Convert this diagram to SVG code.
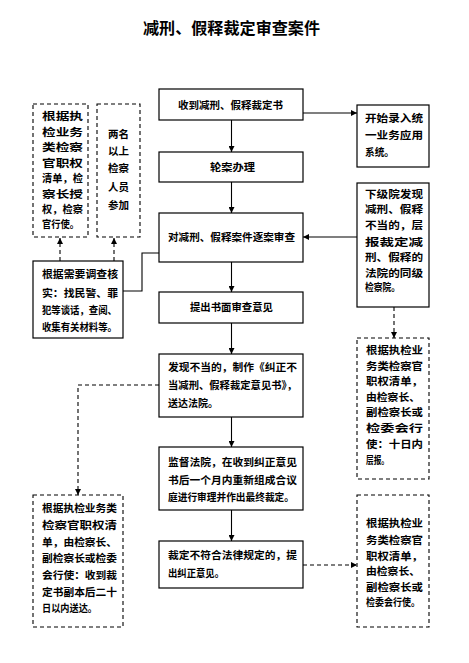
<svg xmlns="http://www.w3.org/2000/svg" width="469" height="663" viewBox="0 0 469 663">
<style>
.t{font-family:"Noto Sans CJK SC","Noto Sans CJK JP",sans-serif;font-weight:bold;font-size:10.5px;fill:#000}
.title{font-family:"Noto Sans CJK SC","Noto Sans CJK JP",sans-serif;font-weight:bold;font-size:16px;fill:#000}
.box{fill:#fff;stroke:#000;stroke-width:1.2}
.dbox{fill:#fff;stroke:#000;stroke-width:1.1;stroke-dasharray:4 3}
.ln{fill:none;stroke:#000;stroke-width:1.1}
.dl{fill:none;stroke:#000;stroke-width:1.1;stroke-dasharray:4 3}
</style>
<defs>
<marker id="ah" viewBox="0 0 10 10" refX="10" refY="5" markerWidth="6" markerHeight="6" markerUnits="userSpaceOnUse" orient="auto">
<path d="M0,0 L10,5 L0,10 Z" fill="#000"/>
</marker>
</defs>
<rect width="469" height="663" fill="#fff"/>
<text class="title" x="231.5" y="34" text-anchor="middle" textLength="177" lengthAdjust="spacingAndGlyphs">减刑、假释裁定审查案件</text>

<g id="connectors">
<line class="ln" x1="231.5" y1="120" x2="231.5" y2="152" marker-end="url(#ah)"/>
<line class="ln" x1="231.5" y1="182" x2="231.5" y2="213" marker-end="url(#ah)"/>
<line class="ln" x1="231.5" y1="262" x2="231.5" y2="292" marker-end="url(#ah)"/>
<line class="ln" x1="231.5" y1="323" x2="231.5" y2="354" marker-end="url(#ah)"/>
<line class="ln" x1="231.5" y1="417" x2="231.5" y2="447" marker-end="url(#ah)"/>
<line class="ln" x1="231.5" y1="510" x2="231.5" y2="541" marker-end="url(#ah)"/>
<line class="ln" x1="303" y1="113" x2="357" y2="113" marker-end="url(#ah)"/>
<line class="ln" x1="357" y1="237" x2="303" y2="237" marker-end="url(#ah)"/>
<line class="dl" x1="394" y1="307" x2="394" y2="338" marker-end="url(#ah)"/>
<line class="dl" x1="303" y1="565" x2="357" y2="565" marker-end="url(#ah)"/>
<polyline class="dl" points="159,385 78,385 78,495" marker-end="url(#ah)"/>
<line class="dl" x1="60" y1="261" x2="60" y2="238" marker-end="url(#ah)"/>
<line class="dl" x1="114" y1="261" x2="114" y2="238" marker-end="url(#ah)"/>
<polyline class="ln" points="123,291 142,291 142,253 159,253"/>
</g>

<g id="n1">
<rect class="box" x="159" y="89" width="144" height="31"/>
<text class="t" x="178" y="109" textLength="105" lengthAdjust="spacingAndGlyphs">收到减刑、假释裁定书</text>
</g>
<g id="n2">
<rect class="box" x="159" y="152" width="144" height="30"/>
<text class="t" x="210" y="171" textLength="45" lengthAdjust="spacingAndGlyphs">轮案办理</text>
</g>
<g id="n3">
<rect class="box" x="159" y="213" width="144" height="49"/>
<text class="t" x="168" y="241" textLength="127" lengthAdjust="spacingAndGlyphs">对减刑、假释案件逐案审查</text>
</g>
<g id="n4">
<rect class="box" x="159" y="292" width="144" height="31"/>
<text class="t" x="190" y="311" textLength="83" lengthAdjust="spacingAndGlyphs">提出书面审查意见</text>
</g>
<g id="n5">
<rect class="box" x="159" y="354" width="144" height="63"/>
<text class="t" x="168" y="371" textLength="129" lengthAdjust="spacingAndGlyphs">发现不当的，制作《纠正不</text>
<text class="t" x="168" y="389" textLength="129" lengthAdjust="spacingAndGlyphs">当减刑、假释裁定意见书》，</text>
<text class="t" x="168" y="407" textLength="50" lengthAdjust="spacingAndGlyphs">送达法院。</text>
</g>
<g id="n6">
<rect class="box" x="159" y="447" width="144" height="63"/>
<text class="t" x="168" y="466" textLength="129" lengthAdjust="spacingAndGlyphs">监督法院，在收到纠正意见</text>
<text class="t" x="168" y="484" textLength="129" lengthAdjust="spacingAndGlyphs">书后一个月内重新组成合议</text>
<text class="t" x="168" y="501" textLength="126" lengthAdjust="spacingAndGlyphs">庭进行审理并作出最终裁定。</text>
</g>
<g id="n7">
<rect class="box" x="159" y="541" width="144" height="47"/>
<text class="t" x="168" y="559" textLength="129" lengthAdjust="spacingAndGlyphs">裁定不符合法律规定的，提</text>
<text class="t" x="168" y="577" textLength="56" lengthAdjust="spacingAndGlyphs">出纠正意见。</text>
</g>
<g id="nA">
<rect class="box" x="357" y="105" width="72" height="62"/>
<text class="t" x="365" y="122" textLength="58" lengthAdjust="spacingAndGlyphs">开始录入统</text>
<text class="t" x="365" y="139" textLength="58" lengthAdjust="spacingAndGlyphs">一业务应用</text>
<text class="t" x="365" y="156" textLength="29" lengthAdjust="spacingAndGlyphs">系统。</text>
</g>
<g id="nB">
<rect class="box" x="357" y="183" width="72" height="124"/>
<text class="t" x="365" y="198" textLength="58" lengthAdjust="spacingAndGlyphs">下级院发现</text>
<text class="t" x="365" y="213" textLength="58" lengthAdjust="spacingAndGlyphs">减刑、假释</text>
<text class="t" x="365" y="229" textLength="58" lengthAdjust="spacingAndGlyphs">不当的，层</text>
<text class="t" x="365" y="246" textLength="58" lengthAdjust="spacingAndGlyphs">报裁定减</text>
<text class="t" x="365" y="261" textLength="58" lengthAdjust="spacingAndGlyphs">刑、假释的</text>
<text class="t" x="365" y="277" textLength="58" lengthAdjust="spacingAndGlyphs">法院的同级</text>
<text class="t" x="365" y="291" textLength="35" lengthAdjust="spacingAndGlyphs">检察院。</text>
</g>
<g id="nC">
<rect class="dbox" x="357" y="338" width="72" height="141"/>
<text class="t" x="366" y="354" textLength="57" lengthAdjust="spacingAndGlyphs">根据执检业</text>
<text class="t" x="366" y="370" textLength="57" lengthAdjust="spacingAndGlyphs">务类检察官</text>
<text class="t" x="366" y="385" textLength="57" lengthAdjust="spacingAndGlyphs">职权清单，</text>
<text class="t" x="366" y="401" textLength="54" lengthAdjust="spacingAndGlyphs">由检察长、</text>
<text class="t" x="366" y="416" textLength="57" lengthAdjust="spacingAndGlyphs">副检察长或</text>
<text class="t" x="366" y="432" textLength="57" lengthAdjust="spacingAndGlyphs">检委会行</text>
<text class="t" x="366" y="448" textLength="57" lengthAdjust="spacingAndGlyphs">使：十日内</text>
<text class="t" x="366" y="464" textLength="23" lengthAdjust="spacingAndGlyphs">层报。</text>
</g>
<g id="nL1">
<rect class="dbox" x="33" y="104" width="55" height="133"/>
<text class="t" x="42" y="120" textLength="41" lengthAdjust="spacingAndGlyphs">根据执</text>
<text class="t" x="42" y="136" textLength="41" lengthAdjust="spacingAndGlyphs">检业务</text>
<text class="t" x="42" y="151" textLength="41" lengthAdjust="spacingAndGlyphs">类检察</text>
<text class="t" x="42" y="167" textLength="41" lengthAdjust="spacingAndGlyphs">官职权</text>
<text class="t" x="42" y="182" textLength="41" lengthAdjust="spacingAndGlyphs">清单，检</text>
<text class="t" x="42" y="198" textLength="41" lengthAdjust="spacingAndGlyphs">察长授</text>
<text class="t" x="42" y="213" textLength="41" lengthAdjust="spacingAndGlyphs">权，检察</text>
<text class="t" x="42" y="228" textLength="37" lengthAdjust="spacingAndGlyphs">官行使。</text>
</g>
<g id="nL2">
<rect class="dbox" x="97" y="104" width="43" height="133"/>
<text class="t" x="108" y="138" textLength="21" lengthAdjust="spacingAndGlyphs">两名</text>
<text class="t" x="108" y="155" textLength="21" lengthAdjust="spacingAndGlyphs">以上</text>
<text class="t" x="108" y="172" textLength="21" lengthAdjust="spacingAndGlyphs">检察</text>
<text class="t" x="108" y="191" textLength="21" lengthAdjust="spacingAndGlyphs">人员</text>
<text class="t" x="108" y="209" textLength="21" lengthAdjust="spacingAndGlyphs">参加</text>
</g>
<g id="nD">
<rect class="box" x="33" y="261" width="90" height="77"/>
<text class="t" x="42" y="278" textLength="76" lengthAdjust="spacingAndGlyphs">根据需要调查核</text>
<text class="t" x="42" y="297" textLength="76" lengthAdjust="spacingAndGlyphs">实：找民警、罪</text>
<text class="t" x="42" y="314" textLength="75" lengthAdjust="spacingAndGlyphs">犯等谈话，查阅、</text>
<text class="t" x="42" y="331" textLength="75" lengthAdjust="spacingAndGlyphs">收集有关材料等。</text>
</g>
<g id="nE">
<rect class="dbox" x="33" y="495" width="90" height="132"/>
<text class="t" x="42" y="512" textLength="75" lengthAdjust="spacingAndGlyphs">根据执检业务类</text>
<text class="t" x="42" y="529" textLength="75" lengthAdjust="spacingAndGlyphs">检察官职权清</text>
<text class="t" x="42" y="546" textLength="75" lengthAdjust="spacingAndGlyphs">单，由检察长、</text>
<text class="t" x="42" y="562" textLength="75" lengthAdjust="spacingAndGlyphs">副检察长或检委</text>
<text class="t" x="42" y="579" textLength="75" lengthAdjust="spacingAndGlyphs">会行使：收到裁</text>
<text class="t" x="42" y="596" textLength="75" lengthAdjust="spacingAndGlyphs">定书副本后二十</text>
<text class="t" x="42" y="612" textLength="55" lengthAdjust="spacingAndGlyphs">日以内送达。</text>
</g>
<g id="nF">
<rect class="dbox" x="357" y="495" width="72" height="132"/>
<text class="t" x="366" y="527" textLength="57" lengthAdjust="spacingAndGlyphs">根据执检业</text>
<text class="t" x="366" y="544" textLength="57" lengthAdjust="spacingAndGlyphs">务类检察官</text>
<text class="t" x="366" y="560" textLength="57" lengthAdjust="spacingAndGlyphs">职权清单，</text>
<text class="t" x="366" y="575" textLength="54" lengthAdjust="spacingAndGlyphs">由检察长、</text>
<text class="t" x="366" y="591" textLength="57" lengthAdjust="spacingAndGlyphs">副检察长或</text>
<text class="t" x="366" y="606" textLength="54" lengthAdjust="spacingAndGlyphs">检委会行使。</text>
</g>
</svg>
